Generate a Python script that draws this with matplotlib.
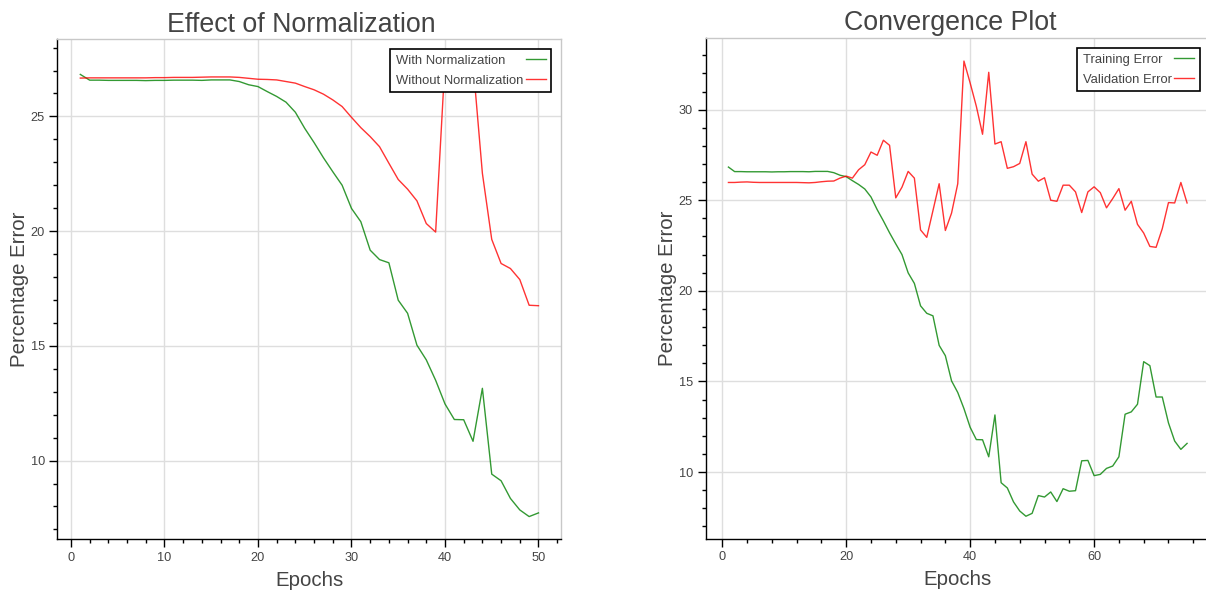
import matplotlib
matplotlib.use('Agg')
import matplotlib.pyplot as plt
from matplotlib.ticker import MultipleLocator

plt.rcParams['font.family'] = ['Liberation Sans', 'DejaVu Sans']

# ---------- data ----------
epochs_norm = list(range(1, 51))
with_norm = [26.83, 26.58, 26.58, 26.57, 26.57, 26.57, 26.57, 26.56, 26.57, 26.57,
             26.58, 26.58, 26.58, 26.57, 26.59, 26.59, 26.59, 26.52, 26.38, 26.30,
             26.08, 25.87, 25.62, 25.18, 24.48, 23.86, 23.20, 22.59, 22.00, 20.99,
             20.41, 19.17, 18.76, 18.62, 16.99, 16.42, 15.03, 14.39, 13.50, 12.47,
             11.79, 11.78, 10.84, 13.15, 9.41, 9.12, 8.35, 7.85, 7.56, 7.72]
without_norm = [26.67, 26.68, 26.68, 26.68, 26.68, 26.68, 26.68, 26.68, 26.69, 26.69,
                26.70, 26.70, 26.70, 26.71, 26.72, 26.72, 26.72, 26.70, 26.66, 26.62,
                26.61, 26.59, 26.52, 26.45, 26.30, 26.16, 25.97, 25.72, 25.43, 24.96,
                24.51, 24.12, 23.68, 22.96, 22.25, 21.83, 21.32, 20.33, 19.96, 27.37,
                27.10, 27.20, 27.30, 22.52, 19.64, 18.59, 18.37, 17.89, 16.77, 16.75]

epochs_conv = list(range(1, 76))
train_error = with_norm + [8.70, 8.62, 8.90, 8.37, 9.08, 8.94, 8.97, 10.62, 10.64, 9.80,
                           9.87, 10.20, 10.33, 10.84, 13.19, 13.32, 13.74, 16.09, 15.87, 14.14,
                           14.14, 12.71, 11.71, 11.25, 11.58]
val_error = [25.98, 25.98, 26.00, 26.01, 25.99, 25.98, 25.98, 25.98, 25.98, 25.98,
             25.98, 25.98, 25.97, 25.96, 25.98, 26.02, 26.05, 26.06, 26.22, 26.33,
             26.22, 26.68, 26.96, 27.66, 27.48, 28.31, 28.03, 25.13, 25.72, 26.59,
             26.22, 23.36, 22.95, 24.43, 25.91, 23.33, 24.29, 25.91, 32.68, 31.47,
             30.18, 28.64, 32.06, 28.10, 28.23, 26.76, 26.85, 27.03, 28.23, 26.44,
             26.05, 26.24, 25.00, 24.94, 25.83, 25.83, 25.46, 24.32, 25.46, 25.74,
             25.42, 24.58, 25.09, 25.64, 24.45, 24.94, 23.67, 23.19, 22.45, 22.40,
             23.43, 24.87, 24.85, 25.98, 24.85]

W, H = 1206, 591
fig = plt.figure(figsize=(W / 100, H / 100), dpi=100)
fig.patch.set_facecolor('white')

TXT = '#444444'


def padded(vals):
    lo, hi = min(vals), max(vals)
    p = 0.05 * (hi - lo)
    return lo - p, hi + p


def style_axes(ax, xmaj, xmin, ymaj, ymin):
    ax.xaxis.set_major_locator(MultipleLocator(xmaj))
    ax.xaxis.set_minor_locator(MultipleLocator(xmin))
    ax.yaxis.set_major_locator(MultipleLocator(ymaj))
    ax.yaxis.set_minor_locator(MultipleLocator(ymin))
    ax.grid(True, which='major', color='#dedede', linewidth=1)
    ax.set_axisbelow(True)
    for s in ['top', 'right']:
        ax.spines[s].set_color('#c8c8c8')
        ax.spines[s].set_linewidth(1)
    for s in ['left', 'bottom']:
        ax.spines[s].set_color('black')
        ax.spines[s].set_linewidth(1)
    ax.tick_params(which='major', direction='out', length=5.5, width=1,
                   color='black', labelcolor=TXT, labelsize=9.2, pad=3.5)
    ax.tick_params(which='minor', direction='out', length=3, width=1, color='black')


def make_legend(ax):
    leg = ax.legend(loc='upper right', markerfirst=False, fontsize=9.4,
                    frameon=True, fancybox=False, edgecolor='black',
                    borderpad=0.42, labelspacing=0.6, handlelength=1.55,
                    handletextpad=0.2, borderaxespad=0.77, framealpha=1)
    leg.get_frame().set_linewidth(1.2)
    for t in leg.get_texts():
        t.set_color(TXT)
    return leg


# ---------- left: Effect of Normalization ----------
ax1 = fig.add_axes([57.4 / W, (H - 539.3) / H, 504 / W, 500 / H])
ax1.plot(epochs_norm, with_norm, color='green', lw=1.0, alpha=0.8, label='With Normalization')
ax1.plot(epochs_norm, without_norm, color='red', lw=1.0, alpha=0.8, label='Without Normalization')
ax1.set_xlim(padded(epochs_norm))
ax1.set_ylim(padded(with_norm + without_norm))
style_axes(ax1, 10, 2, 5, 1)
ax1.set_xlabel('Epochs', fontsize=14.7, color=TXT, labelpad=5)
ax1.set_ylabel('Percentage Error', fontsize=14.7, color=TXT, labelpad=1)
leg1 = make_legend(ax1)
fig.text(301 / W, (H - 31.7) / H, 'Effect of Normalization', fontsize=19.3,
         color=TXT, ha='center', va='baseline')

# ---------- right: Convergence Plot ----------
ax2 = fig.add_axes([705.5 / W, (H - 539) / H, 504.5 / W, 500.7 / H])
ax2.plot(epochs_conv, train_error, color='green', lw=1.0, alpha=0.8, label='Training Error')
ax2.plot(epochs_conv, val_error, color='red', lw=1.0, alpha=0.8, label='Validation Error')
ax2.set_xlim(padded(epochs_conv))
ax2.set_ylim(padded(train_error + val_error))
style_axes(ax2, 20, 4, 5, 1)
ax2.set_xlabel('Epochs', fontsize=14.7, color=TXT, labelpad=5)
ax2.set_ylabel('Percentage Error', fontsize=14.7, color=TXT, labelpad=1)
leg2 = make_legend(ax2)
fig.text(950 / W, (H - 30) / H, 'Convergence Plot', fontsize=19.3,
         color=TXT, ha='center', va='baseline')

# left-align legend text while keeping the line glyphs in one column
fig.canvas.draw()
r = fig.canvas.get_renderer()
for leg in (leg1, leg2):
    col = leg._legend_handle_box.get_children()[0]
    rows = col.get_children()
    widths = [leg.get_texts()[i].get_window_extent(r).width for i in range(len(rows))]
    mw = max(widths)
    for row, w in zip(rows, widths):
        row.sep = row.sep + (mw - w) * 72 / fig.dpi

fig.savefig('out.png', dpi=100, facecolor='white')
